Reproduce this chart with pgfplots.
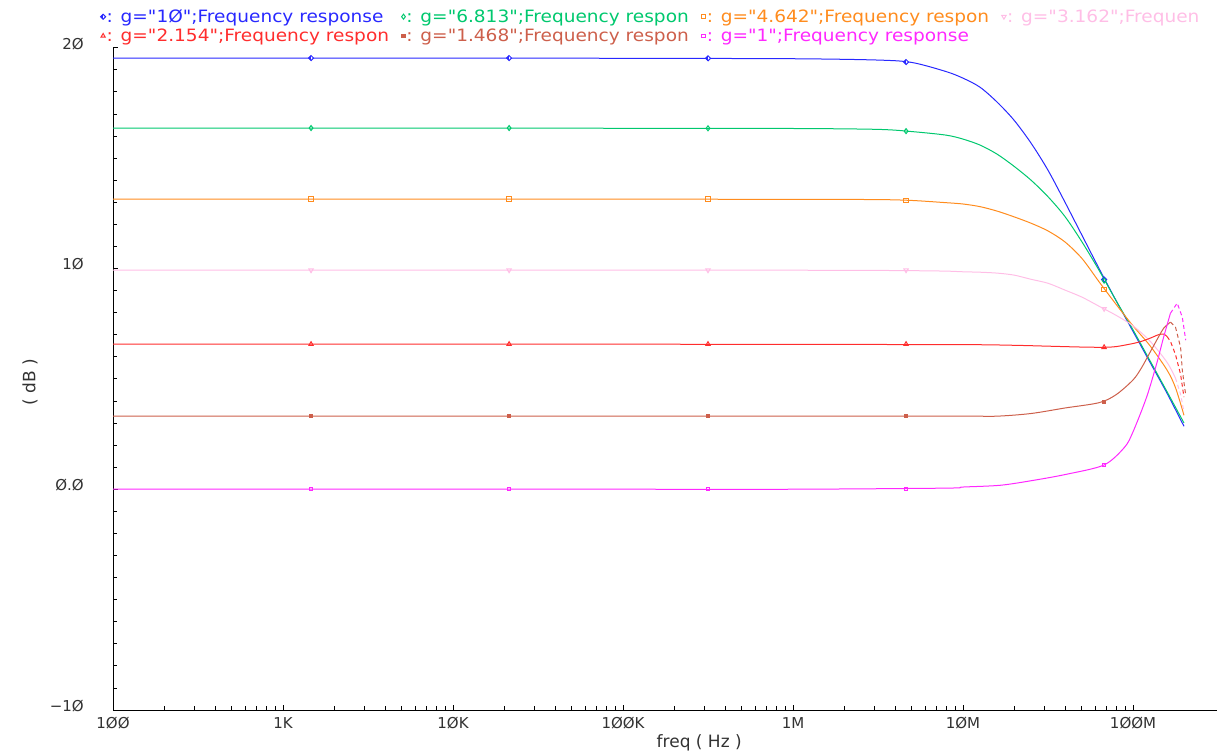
\documentclass[border=0pt]{standalone}
\usepackage{fontspec}
\setmainfont{DejaVu Sans}
\newfontfamily\legfont[FakeStretch=1.09]{DejaVu Sans}
\usepackage{pgfplots}
\pgfplotsset{compat=1.18}
\usetikzlibrary{plotmarks}
\definecolor{cblue}{RGB}{40,40,255}
\definecolor{cgreen}{RGB}{0,200,110}
\definecolor{corange}{RGB}{255,140,30}
\definecolor{cpink}{RGB}{255,190,230}
\definecolor{cred}{RGB}{255,45,45}
\definecolor{cbrown}{RGB}{205,95,75}
\definecolor{cmag}{RGB}{255,40,255}
\definecolor{ctxt}{RGB}{50,50,50}
\newcommand{\legtxt}[2]{\makebox[294pt][l]{\textcolor{#1}{#2}}}
\begin{document}
\begin{tikzpicture}[x=1pt,y=1pt]
\path[use as bounding box] (0,0) rectangle (1225,755);
\begin{axis}[
  at={(113pt,45pt)}, anchor=south west,
  scale only axis, width=1104pt, height=662.3pt,
  xmode=log, xmin=100, xmax=3.12e8, ymin=-10, ymax=20,
  axis x line*=bottom, axis y line*=left,
  axis line style={black, line width=1pt},
  tick align=inside,
  major tick length=5pt, minor tick length=4pt,
  every tick/.style={black, line width=0.8pt},
  xtick={1e2,1e3,1e4,1e5,1e6,1e7,1e8},
  xticklabels={1ØØ,1K,1ØK,1ØØK,1M,1ØM,1ØØM},
  ytick={-10,0,10,20},
  yticklabels={−1Ø,Ø.Ø,1Ø,2Ø},
  minor y tick num=9,
  xticklabel style={font=\fontsize{15}{18}\selectfont, text=ctxt, anchor=base, yshift=-18pt, inner sep=0pt},
  yticklabel style={font=\fontsize{15}{18}\selectfont, text=ctxt, anchor=east, xshift=-29pt, yshift=4pt, inner sep=0pt},
  xlabel={freq ( Hz )},
  xlabel style={at={(axis description cs:0.531,0)}, anchor=center, yshift=-33pt, font=\fontsize{17}{20}\selectfont, text=ctxt},
  ylabel={( dB )},
  ylabel style={at={(axis description cs:-0.0752,0.495)}, anchor=center, font=\fontsize{17}{20}\selectfont, text=ctxt},
  legend columns=4,
  legend cell align=left,
  legend style={at={(-0.0114,1.0595)}, anchor=north west, draw=none, fill=none, inner sep=0pt, row sep=3pt,
    font=\legfont\fontsize{17}{20}\selectfont, nodes={inner sep=1pt}},
  every axis plot/.append style={line width=1pt},
]
% ---- g = 10 (blue)
\addplot[cblue, smooth, tension=0.5, forget plot] coordinates {(100,19.53)(1e3,19.53)(1e4,19.53)(1e5,19.52)(1e6,19.5)(3.162e6,19.44)(5.012e6,19.33)(7.943e6,18.92)(1e7,18.62)(1.259e7,18.21)(1.585e7,17.54)(1.995e7,16.72)(2.512e7,15.68)(3.162e7,14.45)(3.981e7,13.0)(5.012e7,11.5)(6.310e7,10.0)(7.943e7,8.55)(1e8,7.15)(1.259e8,5.75)(1.585e8,4.35)(1.995e8,2.85)};
\addplot[cblue, only marks, mark=halfsquare left*, mark size=2.5pt, forget plot] coordinates {(1462,19.53)(21380,19.53)(316200,19.52)(4.624e6,19.35)(6.761e7,9.5)};
% ---- g = 6.813 (green)
\addplot[cgreen, smooth, tension=0.5, forget plot] coordinates {(100,16.36)(1e3,16.36)(1e4,16.36)(1e5,16.35)(1e6,16.34)(3.162e6,16.3)(5.012e6,16.2)(7.943e6,16.04)(1e7,15.86)(1.259e7,15.59)(1.585e7,15.18)(1.995e7,14.63)(2.512e7,14.0)(3.162e7,13.25)(3.981e7,12.35)(5.012e7,11.2)(6.310e7,9.92)(7.943e7,8.55)(1e8,7.22)(1.259e8,5.82)(1.585e8,4.42)(1.995e8,3.0)};
\addplot[cgreen, only marks, mark=diamond, mark size=2.5pt, forget plot] coordinates {(1462,16.36)(21380,16.36)(316200,16.35)(4.624e6,16.22)(6.761e7,9.45)};
% ---- g = 4.642 (orange)
\addplot[corange, smooth, tension=0.5, forget plot] coordinates {(100,13.14)(1e3,13.14)(1e4,13.14)(1e5,13.14)(1e6,13.13)(3.162e6,13.12)(5.012e6,13.08)(7.943e6,12.98)(1e7,12.92)(1.259e7,12.8)(1.585e7,12.6)(1.995e7,12.34)(2.512e7,12.05)(3.162e7,11.7)(3.981e7,11.2)(5.012e7,10.45)(6.310e7,9.4)(7.943e7,8.38)(1e8,7.4)(1.259e8,6.5)(1.585e8,5.4)(1.778e8,4.6)(1.995e8,3.35)};
\addplot[corange, only marks, mark=square, mark size=2.2pt, forget plot] coordinates {(1462,13.14)(21380,13.14)(316200,13.14)(4.624e6,13.09)(6.761e7,9.05)};
% ---- g = 3.162 (pink)
\addplot[cpink, smooth, tension=0.5, forget plot] coordinates {(100,9.92)(1e3,9.92)(1e4,9.92)(1e5,9.92)(1e6,9.92)(3.162e6,9.91)(5.012e6,9.9)(7.943e6,9.88)(1e7,9.85)(1.259e7,9.83)(1.585e7,9.79)(1.995e7,9.7)(2.512e7,9.51)(3.162e7,9.33)(3.981e7,9.02)(5.012e7,8.7)(6.310e7,8.29)(7.943e7,7.88)(1e8,7.4)(1.259e8,6.71)(1.585e8,5.75)(1.778e8,5.03)};
\addplot[cpink, dash pattern=on 4pt off 3pt, forget plot] coordinates {(1.778e8,5.03)(1.905e8,4.3)(1.995e8,3.49)};
\addplot[cpink, only marks, mark=triangle, mark options={rotate=180}, mark size=2.5pt, forget plot] coordinates {(1462,9.92)(21380,9.92)(316200,9.92)(4.624e6,9.92)(6.761e7,8.17)};
% ---- g = 2.154 (red)
\addplot[cred, smooth, tension=0.5, forget plot] coordinates {(100,6.57)(1e3,6.57)(1e4,6.57)(1e5,6.57)(1e6,6.56)(1e7,6.55)(1.995e7,6.52)(3.162e7,6.48)(5.012e7,6.44)(6.761e7,6.43)(7.943e7,6.46)(1e8,6.6)(1.122e8,6.7)(1.259e8,6.84)(1.413e8,7.0)(1.514e8,7.03)(1.585e8,6.92)};
\addplot[cred, dash pattern=on 4pt off 3pt, forget plot] coordinates {(1.585e8,6.92)(1.660e8,6.7)(1.778e8,6.1)(1.905e8,5.2)(1.995e8,4.17)};
\addplot[cred, only marks, mark=triangle, mark size=2.5pt, forget plot] coordinates {(1462,6.57)(21380,6.57)(316200,6.57)(4.624e6,6.57)(6.761e7,6.43)};
% ---- g = 1.468 (brown)
\addplot[cbrown, smooth, tension=0.5, forget plot] coordinates {(100,3.31)(1e3,3.31)(1e4,3.31)(1e5,3.31)(1e6,3.31)(1e7,3.31)(1.585e7,3.31)(2.512e7,3.43)(3.981e7,3.68)(6.310e7,3.92)(7.943e7,4.28)(1e8,4.95)(1.122e8,5.5)(1.259e8,6.2)(1.413e8,6.9)(1.514e8,7.29)(1.660e8,7.57)};
\addplot[cbrown, dash pattern=on 4pt off 3pt, forget plot] coordinates {(1.660e8,7.57)(1.778e8,7.34)(1.905e8,6.43)(1.950e8,5.39)(2.042e8,4.26)};
\addplot[cbrown, only marks, mark=square*, mark size=1.6pt, forget plot] coordinates {(1462,3.31)(21380,3.31)(316200,3.31)(4.624e6,3.31)(6.761e7,3.94)};
% ---- g = 1 (magenta)
\addplot[cmag, smooth, tension=0.5, forget plot] coordinates {(100,0)(1e3,0)(1e4,0)(1e5,0)(1e6,0)(7.943e6,0.05)(1e7,0.1)(1.660e7,0.18)(2.630e7,0.41)(4.074e7,0.68)(6.761e7,1.1)(8.913e7,1.9)(1e8,2.6)(1.202e8,4.17)(1.380e8,5.71)(1.514e8,6.89)(1.660e8,7.97)};
\addplot[cmag, dash pattern=on 4pt off 3pt, forget plot] coordinates {(1.660e8,7.97)(1.820e8,8.43)(1.950e8,7.79)(2.042e8,6.75)};
\addplot[cmag, only marks, mark=square, mark size=1.6pt, forget plot] coordinates {(1462,0)(21380,0)(316200,0)(4.624e6,0)(6.761e7,1.1)};
% ---- legend
\addlegendimage{only marks, cblue, mark=halfsquare left*, mark size=2.5pt}
\addlegendentry{\legtxt{cblue}{: g="1Ø";Frequency response}}
\addlegendimage{only marks, cgreen, mark=diamond, mark size=2.5pt}
\addlegendentry{\legtxt{cgreen}{: g="6.813";Frequency respon}}
\addlegendimage{only marks, corange, mark=square, mark size=2.2pt}
\addlegendentry{\legtxt{corange}{: g="4.642";Frequency respon}}
\addlegendimage{only marks, cpink, mark=triangle, mark options={rotate=180}, mark size=2.5pt}
\addlegendentry{\legtxt{cpink}{: g="3.162";Frequen}}
\addlegendimage{only marks, cred, mark=triangle, mark size=2.5pt}
\addlegendentry{\legtxt{cred}{: g="2.154";Frequency respon}}
\addlegendimage{only marks, cbrown, mark=square*, mark size=1.6pt}
\addlegendentry{\legtxt{cbrown}{: g="1.468";Frequency respon}}
\addlegendimage{only marks, cmag, mark=square, mark size=1.6pt}
\addlegendentry{\legtxt{cmag}{: g="1";Frequency response}}
\end{axis}
\end{tikzpicture}
\end{document}
